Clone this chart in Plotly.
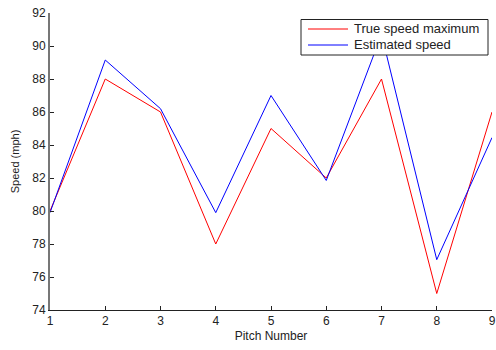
import plotly.graph_objects as go

pitch = [1, 2, 3, 4, 5, 6, 7, 8, 9]
true_speed_max = [80, 88, 86, 78, 85, 82, 88, 75, 86]
estimated_speed = [79.9, 89.15, 86.2, 79.9, 87.0, 81.85, 90.7, 77.05, 84.45]

y_ticks = [74, 76, 78, 80, 82, 84, 86, 88, 90, 92]
x_ticks = pitch

series_names = ["True speed maximum", "Estimated speed"]
series_colors = ["#ff0000", "#0000ff"]

W, H = 496, 350
L, R, T, B = 50, 4, 13, 40
plot_w = W - L - R
plot_h = H - T - B


def px_x(px):
    return (px - L) / plot_w


def px_y(py):
    return (H - B - py) / plot_h


font = dict(family="Liberation Sans, Arial, sans-serif", size=12, color="#222222")

fig = go.Figure()
for name, vals, col in zip(series_names, [true_speed_max, estimated_speed], series_colors):
    fig.add_trace(go.Scatter(x=pitch, y=vals, mode="lines", name=name,
                             line=dict(color=col, width=1), showlegend=False))

# boxed legend in the upper right corner
shapes = [dict(type="rect", xref="paper", yref="paper",
               x0=px_x(301), x1=px_x(488), y0=px_y(55), y1=px_y(19.5),
               line=dict(color="#222222", width=1), fillcolor="white", layer="above")]
annotations = []
for i, (name, col) in enumerate(zip(series_names, series_colors)):
    yy = px_y(29 + 16 * i)
    shapes.append(dict(type="line", xref="paper", yref="paper",
                       x0=px_x(308), x1=px_x(348), y0=yy, y1=yy,
                       line=dict(color=col, width=1), layer="above"))
    annotations.append(dict(xref="paper", yref="paper", x=px_x(352), y=yy,
                            text=name, showarrow=False, xanchor="left", yanchor="middle",
                            font=dict(family="Liberation Sans, Arial, sans-serif", size=13,
                                      color="#222222")))

fig.update_layout(
    width=W, height=H,
    margin=dict(l=L, r=R, t=T, b=B),
    paper_bgcolor="white", plot_bgcolor="white",
    font=font,
    shapes=shapes,
    annotations=annotations,
    xaxis=dict(
        range=[1, 9], tickvals=x_ticks, ticktext=[str(v) for v in x_ticks],
        automargin=False,
        showgrid=False, zeroline=False, showline=True, linecolor="#222222", linewidth=1,
        ticks="inside", ticklen=4, tickcolor="#222222", tickfont=font,
        title=dict(text="Pitch Number", font=font, standoff=4),
    ),
    yaxis=dict(
        range=[74, 92], tickvals=y_ticks, ticktext=[str(v) for v in y_ticks],
        automargin=False,
        showgrid=False, zeroline=False, showline=True, linecolor="#777777", linewidth=2,
        ticks="inside", ticklen=4, tickcolor="#222222", tickfont=font,
        title=dict(text="Speed (mph)",
                   font=dict(family="Liberation Sans, Arial, sans-serif", size=11, color="#222222"),
                   standoff=10),
    ),
)

fig.write_html("out.html")
